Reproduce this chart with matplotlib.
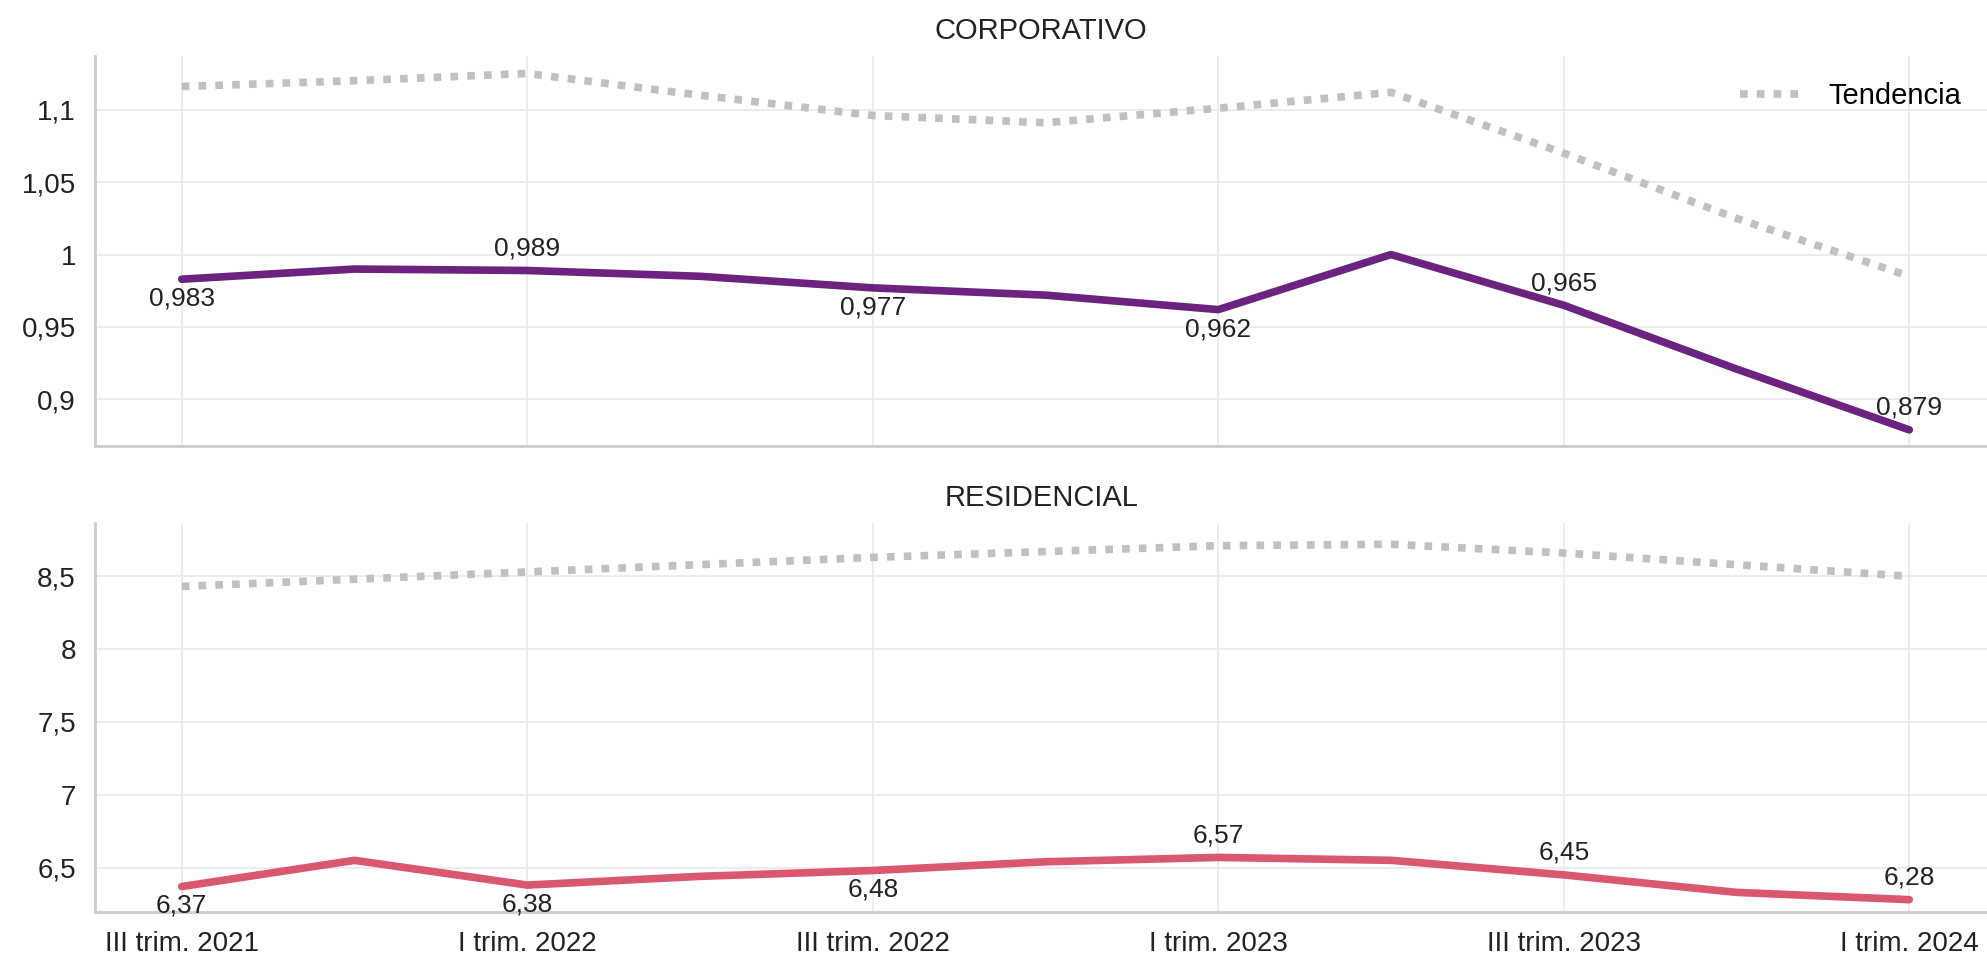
import numpy as np
import matplotlib
matplotlib.use("Agg")
import matplotlib.pyplot as plt

plt.rcParams['font.family'] = ['Liberation Sans', 'DejaVu Sans']

# quarters III 2021 .. I 2024
quarters = ['III trim. 2021', 'IV trim. 2021', 'I trim. 2022', 'II trim. 2022',
            'III trim. 2022', 'IV trim. 2022', 'I trim. 2023', 'II trim. 2023',
            'III trim. 2023', 'IV trim. 2023', 'I trim. 2024']

corp_values = [0.983, 0.990, 0.989, 0.985, 0.977, 0.972, 0.962, 1.000, 0.965, 0.921, 0.879]
corp_trend = [1.116, 1.120, 1.125, 1.110, 1.096, 1.091, 1.101, 1.112, 1.070, 1.025, 0.985]

resi_values = [6.37, 6.55, 6.38, 6.44, 6.48, 6.54, 6.57, 6.55, 6.45, 6.33, 6.28]
resi_trend = [8.43, 8.48, 8.53, 8.58, 8.63, 8.67, 8.71, 8.72, 8.66, 8.58, 8.50]

# which labelled points get their number under the line
corp_below = [True, False, True, True, False, False]
resi_below = [True, True, True, False, False, False]


def fmt(v, dec):
    return f'{v:.{dec}f}'.replace('.', ',')


def draw_panel(ax, values, trend, color, title, below, dec, ylim, yticks, ytick_labels):
    x = np.arange(len(values))
    ax.plot(x, trend, color='#c0c0c0', lw=5.5, linestyle=(0, (1, 1.2)),
            label='Tendencia', zorder=2)
    ax.plot(x, values, color=color, lw=5.5, solid_capstyle='round', zorder=3)
    # labels on every second point
    for k, i in enumerate(range(0, len(values), 2)):
        off = -14 if below[k] else 16
        ax.annotate(fmt(values[i], dec), (x[i], values[i]), xytext=(0, off),
                    textcoords='offset points', ha='center', va='center',
                    fontsize=19, color='#222222')
    ax.set_title(title, fontsize=21, color='#222222', pad=12)
    ax.set_ylim(*ylim)
    ax.set_yticks(yticks)
    ax.set_yticklabels(ytick_labels)
    ax.set_xlim(-0.5, 10.45)
    ax.set_xticks(x[::2])
    ax.grid(True, color='#ebebeb', lw=1.3)
    ax.set_axisbelow(True)
    for s in ['top', 'right']:
        ax.spines[s].set_visible(False)
    for s in ['left', 'bottom']:
        ax.spines[s].set_color('#cccccc')
        ax.spines[s].set_linewidth(2)
    ax.tick_params(axis='both', length=0, labelsize=20, colors='#222222', pad=14)


fig = plt.figure(figsize=(19.87, 9.67), dpi=100)
ax1 = fig.add_axes([0.048, 0.539, 0.952, 0.403])
ax2 = fig.add_axes([0.048, 0.057, 0.952, 0.402])

draw_panel(ax1, corp_values, corp_trend, '#6c2380', 'CORPORATIVO', corp_below, 3,
           (0.868, 1.137), [0.9, 0.95, 1.0, 1.05, 1.1],
           ['0,9', '0,95', '1', '1,05', '1,1'])
draw_panel(ax2, resi_values, resi_trend, '#d9576f', 'RESIDENCIAL', resi_below, 2,
           (6.196, 8.865), [6.5, 7, 7.5, 8, 8.5],
           ['6,5', '7', '7,5', '8', '8,5'])

ax1.set_xticklabels([])
ax2.set_xticklabels(quarters[::2])

leg = ax1.legend(loc='upper right', frameon=False, fontsize=21,
                 handlelength=2.2, bbox_to_anchor=(1.0, 1.0))

fig.savefig('out.png', dpi=100)
